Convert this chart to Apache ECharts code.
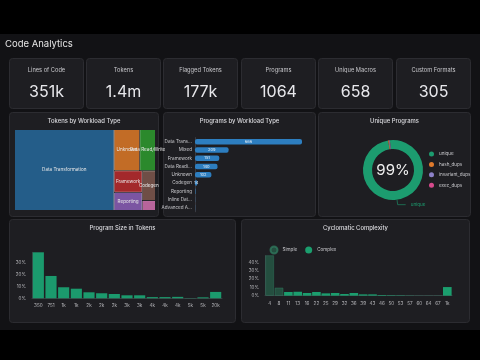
<!DOCTYPE html>
<html><head><meta charset="utf-8">
<script src="https://cdn.jsdelivr.net/npm/echarts@6/dist/echarts.min.js"></script>
<style>html,body{margin:0;padding:0;background:#000;}#c{width:480px;height:360px;}</style>
</head><body><div id="c"></div>
<script>
// ---- data ----
const dashboardTitle = 'Code Analytics';
const statLabels = ['Lines of Code','Tokens','Flagged Tokens','Programs','Unique Macros','Custom Formats'];
const statValues = ['351k','1.4m','177k','1064','658','305'];

const treemapNames = ['Data Transformation','Unknown','Data Read/Write','Framework','Reporting','Codegen','Advanced Analytics'];
const treemapValues = [7920,1040,640,600,504,390,130];

const barCategories = ['Data Trans...','Mixed','Framework','Data Readi...','Unknown','Codegen','Reporting','Inline Dat...','Advanced A...'];
const barValues = [666,209,151,140,102,14,3,1,1];

const pieNames = ['unique','hash_dups','invariant_dups','exec_dups'];
const pieValues = [1054,5,4,1];
const pieCenterText = '99%';

const sizeLabels = ['350','751','1k','1k','2k','2k','2k','3k','3k','4k','4k','4k','5k','5k','20k'];
const sizeValues = [38.3,18.6,9.2,8.0,5.0,4.2,3.6,2.5,2.5,1.0,1.0,1.2,0.2,0.8,5.3];

const ccLabels = ['4','8','11','13','16','22','25','29','32','36','39','43','46','50','53','57','60','64','67','1k'];
const ccSimple = [48,9.5,null,null,null,null,null,null,null,null,null,null,null,null,null,null,null,null,null,null];
const ccComplex = [null,null,4.4,4.7,3.2,4.4,2.8,3.2,2.0,3.2,1.6,1.6,0.8,0.6,0.5,0.3,0.2,0.2,0.2,10.3];

// ---- styling ----
const FONT = 'Inter, "Noto Sans", sans-serif';
const treemapColors = ['#245d89','#c26c26','#2b892c','#a3292b','#7b55a2','#6f4e46','#b8649b'];
const pieColors = ['#1c9c6f','#e07a2c','#8d82c9','#d64a8c'];
const green = '#1b9a6d';
const panelFill = '#1e1e22', panelStroke = '#2c2c31';

const chart = echarts.init(document.getElementById('c'), null, {renderer:'canvas'});

const graphics = [];
graphics.push({type:'rect', z:-10, shape:{x:0,y:34,width:480,height:296}, style:{fill:'#121215'}});
graphics.push({type:'text', z:5, style:{text:dashboardTitle, x:5, y:44, textVerticalAlign:'middle', font:'9.5px '+FONT, fill:'#e6e6e6'}});
function panel(x,y,w,h){
  graphics.push({type:'rect', z:-5, shape:{x:x,y:y,width:w,height:h,r:3}, style:{fill:panelFill, stroke:panelStroke, lineWidth:1}});
}
const cardX = [9,86,163,241,318,396];
statLabels.forEach((l,i)=>{
  panel(cardX[i]+0.5,58.5,74,50);
  graphics.push({type:'text', z:5, style:{text:l, x:cardX[i]+37.5, y:70, textAlign:'center', textVerticalAlign:'middle', font:'5.7px '+FONT, fill:'#c8c8cc'}});
  graphics.push({type:'text', z:5, style:{text:statValues[i], x:cardX[i]+37.5, y:92.5, textAlign:'center', textVerticalAlign:'middle', font:'16px '+FONT, fill:'#e8e8ec'}});
});
const midPanels = [[9.5,112.5,149,104,'Tokens by Workload Type'],[163.5,112.5,152,104,'Programs by Workload Type'],[318.5,112.5,152,104,'Unique Programs']];
const botPanels = [[9.5,219.5,226,103,'Program Size in Tokens'],[241.5,219.5,228,103,'Cyclomatic Complexity']];
midPanels.concat(botPanels).forEach(p=>{
  panel(p[0],p[1],p[2],p[3]);
  graphics.push({type:'text', z:5, style:{text:p[4], x:p[0]+p[2]/2, y:p[1]+(p[1]<200?8.5:9), textAlign:'center', textVerticalAlign:'middle', font:'500 5.9px '+FONT, fill:'#dcdce0'}});
});
graphics.push({type:'text', z:5, style:{text:pieCenterText, x:393, y:170, textAlign:'center', textVerticalAlign:'middle', font:'15px '+FONT, fill:'#f0f0f0'}});

const axisText = {color:'#b8b8bc', fontSize:4.6, fontFamily:FONT};

const option = {
  backgroundColor:'#000',
  animation:false,
  textStyle:{fontFamily:FONT},
  graphic:{elements:graphics},
  legend:[
    {data:pieNames, orient:'vertical', left:429, top:151.5, padding:0, itemWidth:5, itemHeight:5, icon:'circle', itemGap:5.4,
     textStyle:{color:'#c8c8cc', fontSize:4.6, fontFamily:FONT}, selectedMode:false},
    {data:['Simple','Complex'], left:269.5, top:245.5, padding:0, itemWidth:7, itemHeight:7, icon:'circle', itemGap:8,
     textStyle:{color:'#c8c8cc', fontSize:4.6, fontFamily:FONT}, selectedMode:false}
  ],
  grid:[
    {left:195, top:137.6, width:107, height:74.2, containLabel:false},
    {left:32, top:252.3, width:190, height:46, containLabel:false},
    {left:265, top:255.4, width:187, height:40.3, containLabel:false}
  ],
  xAxis:[
    {gridIndex:0, type:'value', show:false, min:0, max:'dataMax'},
    {gridIndex:1, type:'category', data:sizeLabels, axisLine:{lineStyle:{color:'#3a3a40'}}, axisTick:{show:false},
     axisLabel:Object.assign({interval:0, margin:5}, axisText)},
    {gridIndex:2, type:'category', data:ccLabels, axisLine:{lineStyle:{color:'#3a3a40'}}, axisTick:{show:false},
     axisLabel:Object.assign({interval:0, margin:5}, axisText)}
  ],
  yAxis:[
    {gridIndex:0, type:'category', data:barCategories, inverse:true, axisLine:{show:true, lineStyle:{color:'#3a3a40'}}, axisTick:{show:false},
     axisLabel:{color:'#c8c8cc', fontSize:4.6, fontFamily:FONT, margin:3}},
    {gridIndex:1, type:'value', min:0, max:'dataMax', interval:10, splitLine:{show:false},
     axisLine:{show:true, lineStyle:{color:'#3a3a40'}}, axisLabel:Object.assign({formatter:'{value}%', margin:6, showMaxLabel:false}, axisText)},
    {gridIndex:2, type:'value', min:0, max:'dataMax', interval:10, splitLine:{show:false},
     axisLine:{show:true, lineStyle:{color:'#3a3a40'}}, axisLabel:Object.assign({formatter:'{value}%', margin:6, showMaxLabel:false}, axisText)}
  ],
  series:[
    {type:'treemap', left:15, top:130, width:140, height:80, roam:false, nodeClick:false, breadcrumb:{show:false},
     silent:true,
     levels:[{itemStyle:{borderWidth:0, gapWidth:1, borderColor:panelFill}}],
     label:{show:true, position:'inside', fontSize:4.6, color:'#e8e8e8', overflow:'none', fontFamily:FONT},
     upperLabel:{show:false},
     data:treemapNames.map((n,i)=>({name:n, value:treemapValues[i], itemStyle:{color:treemapColors[i]}}))},
    {type:'bar', xAxisIndex:0, yAxisIndex:0, data:barValues, barWidth:5.5,
     itemStyle:{color:'#2d7ec0', borderRadius:2},
     label:{show:true, position:'inside', fontSize:4, color:'#e8f0f8', fontFamily:FONT,
            formatter:p=>p.value>=10?String(p.value):''}},
    {type:'pie', center:[393,170], radius:[21,30], startAngle:96, silent:true,
     data:pieNames.map((n,i)=>({name:n, value:pieValues[i], itemStyle:{color:pieColors[i]},
        label:{show:i===0}, labelLine:{show:i===0}})),
     label:{color:'#1c9c6f', fontSize:4.6, fontFamily:FONT},
     labelLine:{length:5, length2:8, lineStyle:{color:'#1c9c6f', width:0.6}}},
    {type:'bar', xAxisIndex:1, yAxisIndex:1, data:sizeValues, barCategoryGap:'12%', itemStyle:{color:green}},
    {type:'bar', name:'Simple', stack:'cc', xAxisIndex:2, yAxisIndex:2, data:ccSimple, barCategoryGap:'8%',
     itemStyle:{color:'rgba(40,110,84,0.6)', borderColor:'rgba(50,130,100,0.7)', borderWidth:0.6}},
    {type:'bar', name:'Complex', stack:'cc', xAxisIndex:2, yAxisIndex:2, data:ccComplex, barCategoryGap:'8%',
     itemStyle:{color:'#1b9e6e'}}
  ]
};
chart.setOption(option);
</script></body></html>
